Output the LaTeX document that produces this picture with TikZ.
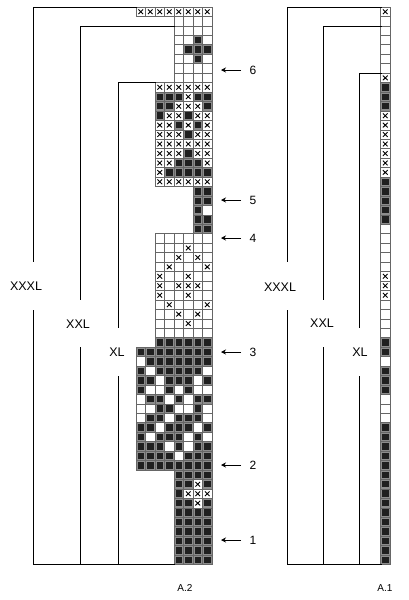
\documentclass[tikz,border=0pt]{standalone}
\usepackage{fontspec}
\setmainfont{Liberation Sans}
\usetikzlibrary{arrows.meta}
\begin{document}
\begin{tikzpicture}[x=1pt,y=-1pt,
  gridline/.style={draw=black!60,line width=0.7pt},
  xmark/.style={draw=black,line width=0.9pt},
  bracket/.style={draw=black,line width=0.8pt},
  sizelabel/.style={font=\fontsize{12.5}{14}\selectfont,inner sep=0pt},
  rowlabel/.style={font=\fontsize{12}{14}\selectfont,inner sep=0pt},
  chartlabel/.style={font=\fontsize{10}{12}\selectfont,inner sep=0pt},
  rowarrow/.style={draw=black,line width=0.8pt,-{Stealth[length=5pt,width=5pt]}}]
\useasboundingbox (0,0) rectangle (409,600);
\fill[white] (0,0) rectangle (409,600);
\def\cw{9.5}\def\ch{9.45}
\newcommand\cellat[4]{%
  \pgfmathsetmacro\xa{#1+\cw*#3}\pgfmathsetmacro\ya{7+\ch*#2}%
  \ifcase#4\relax
  \or \draw[gridline] (\xa,\ya) rectangle ++(\cw,\ch);
  \or \fill[black!45] (\xa,\ya) rectangle ++(\cw,\ch);
      \fill[black!88] (\xa+1.5,\ya+1.5) rectangle ++(\cw-3,\ch-3);
      \draw[gridline] (\xa,\ya) rectangle ++(\cw,\ch);
  \or \draw[gridline] (\xa,\ya) rectangle ++(\cw,\ch);
      \draw[xmark] (\xa+2.4,\ya+2.4) -- ++(\cw-4.8,\ch-4.8)
                   (\xa+2.4,\ya+\ch-2.4) -- ++(\cw-4.8,-\ch+4.8);
  \fi}
\newcommand\chartrow[3]{\foreach \s [count=\c from 0] in {#3}{\cellat{#1}{#2}{\c-1}{\s}}}
% ---------------- A.2 ----------------
\chartrow{137}{0}{3,3,3,3,3,3,3,3}
\foreach \r in {1,2,6,7}{\chartrow{137}{\r}{0,0,0,0,1,1,1,1}}
\chartrow{137}{3}{0,0,0,0,1,1,2,1}
\chartrow{137}{4}{0,0,0,0,1,2,2,2}
\chartrow{137}{5}{0,0,0,0,1,1,2,1}
\chartrow{137}{8}{0,0,3,3,3,3,3,3}
\chartrow{137}{9}{0,0,2,2,2,3,2,2}
\chartrow{137}{10}{0,0,2,2,3,3,3,2}
\chartrow{137}{11}{0,0,2,3,3,2,3,3}
\chartrow{137}{12}{0,0,3,3,2,3,2,3}
\chartrow{137}{13}{0,0,3,3,3,2,3,3}
\chartrow{137}{14}{0,0,3,3,3,3,3,3}
\chartrow{137}{15}{0,0,3,3,3,2,3,3}
\chartrow{137}{16}{0,0,3,3,2,2,2,3}
\chartrow{137}{17}{0,0,3,2,2,2,2,2}
\chartrow{137}{18}{0,0,3,3,3,3,3,3}
\foreach \r in {19,20,22,23}{\chartrow{137}{\r}{0,0,0,0,0,0,2,2}}
\chartrow{137}{21}{0,0,0,0,0,0,2,1}
\chartrow{137}{24}{0,0,1,1,1,1,1,1}
\chartrow{137}{25}{0,0,1,1,1,3,1,1}
\chartrow{137}{26}{0,0,1,1,3,1,3,1}
\chartrow{137}{27}{0,0,1,3,1,1,1,3}
\chartrow{137}{28}{0,0,3,1,1,3,1,1}
\chartrow{137}{29}{0,0,3,1,3,3,3,1}
\chartrow{137}{30}{0,0,3,1,1,3,1,1}
\chartrow{137}{31}{0,0,1,3,1,1,1,3}
\chartrow{137}{32}{0,0,1,1,3,1,3,1}
\chartrow{137}{33}{0,0,1,1,1,3,1,1}
\chartrow{137}{34}{0,0,1,1,1,1,1,1}
\chartrow{137}{35}{0,0,2,2,2,2,2,2}
\chartrow{137}{36}{2,2,2,2,2,2,2,2}
\chartrow{137}{37}{1,2,2,2,2,2,2,2}
\chartrow{137}{38}{2,1,2,2,2,2,2,1}
\chartrow{137}{39}{2,2,1,2,2,2,1,2}
\chartrow{137}{40}{2,1,1,2,1,2,1,1}
\chartrow{137}{41}{1,2,2,1,2,1,2,2}
\chartrow{137}{42}{1,1,2,2,1,1,2,1}
\chartrow{137}{43}{1,2,2,1,2,2,2,1}
\chartrow{137}{44}{2,2,1,2,2,2,1,2}
\chartrow{137}{45}{2,1,2,2,2,1,2,1}
\chartrow{137}{46}{2,2,2,1,2,1,2,2}
\chartrow{137}{47}{2,2,2,2,1,2,2,2}
\chartrow{137}{48}{2,2,2,2,2,2,2,2}
\foreach \r in {49,53,54,55,56,57,58}{\chartrow{137}{\r}{0,0,0,0,2,2,2,2}}
\chartrow{137}{50}{0,0,0,0,2,2,3,2}
\chartrow{137}{51}{0,0,0,0,2,3,3,3}
\chartrow{137}{52}{0,0,0,0,2,2,3,2}
% ---------------- A.1 ----------------
\chartrow{381.5}{0}{3}
\foreach \r in {1,...,6}{\chartrow{381.5}{\r}{1}}
\chartrow{381.5}{7}{3}
\foreach \r in {8,9,10}{\chartrow{381.5}{\r}{2}}
\foreach \r in {11,...,17}{\chartrow{381.5}{\r}{3}}
\foreach \r in {18,...,22}{\chartrow{381.5}{\r}{2}}
\foreach \r in {23,...,27}{\chartrow{381.5}{\r}{1}}
\foreach \r in {28,29,30}{\chartrow{381.5}{\r}{3}}
\foreach \r in {31,...,34}{\chartrow{381.5}{\r}{1}}
\foreach \r in {35,36}{\chartrow{381.5}{\r}{2}}
\chartrow{381.5}{37}{1}
\foreach \r in {38,39,40}{\chartrow{381.5}{\r}{2}}
\foreach \r in {41,42,43}{\chartrow{381.5}{\r}{1}}
\foreach \r in {44,...,58}{\chartrow{381.5}{\r}{2}}
% ---------------- brackets A.2 ----------------
\node[sizelabel] (a2xxxl) at (26,286) {XXXL};
\node[sizelabel] (a2xxl) at (78,324) {XXL};
\node[sizelabel] (a2xl) at (117,352) {XL};
\draw[bracket] (137,7) -- (33.3,7) -- (33.3,262);
\draw[bracket] (33.3,310) -- (33.3,564.5) -- (175,564.5);
\draw[bracket] (175,25.9) -- (80,25.9) -- (80,300);
\draw[bracket] (80,347) -- (80,564.5);
\draw[bracket] (156,82.6) -- (118.3,82.6) -- (118.3,328);
\draw[bracket] (118.3,376) -- (118.3,564.5);
% ---------------- brackets A.1 ----------------
\node[sizelabel] (a1xxxl) at (280,287) {XXXL};
\node[sizelabel] (a1xxl) at (322,323) {XXL};
\node[sizelabel] (a1xl) at (360,352) {XL};
\draw[bracket] (381.5,7) -- (287,7) -- (287,262);
\draw[bracket] (287,310) -- (287,564.5) -- (381.5,564.5);
\draw[bracket] (381.5,25.9) -- (323,25.9) -- (323,300);
\draw[bracket] (323,347) -- (323,564.5);
\draw[bracket] (381.5,73.15) -- (359,73.15) -- (359,328);
\draw[bracket] (359,376) -- (359,564.5);
% ---------------- row markers ----------------
\foreach \n/\yy in {6/70,5/200,4/238,3/352,2/465,1/540}{
  \node[rowlabel] (num\n) at (253,\yy) {\n};
  \coordinate (arr\n) at (241,\yy);
  \coordinate (tip\n) at (221,\yy);
  \draw[rowarrow] (arr\n) -- (tip\n);
}
\node[chartlabel] (lab2) at (185,588) {A.2};
\node[chartlabel] (lab1) at (385,588) {A.1};
\end{tikzpicture}
\end{document}
